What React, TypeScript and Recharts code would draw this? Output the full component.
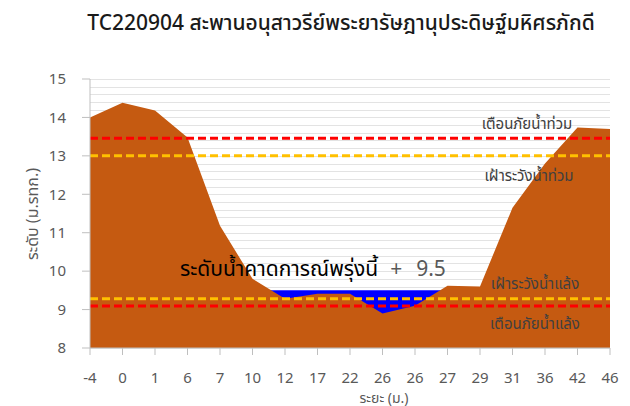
import { AreaChart, Area, XAxis, YAxis, CartesianGrid, ReferenceLine, Label } from 'recharts';

// distance along the cross section (m) and bed level (m MSL)
const distances = ['-4', '0', '1', '6', '7', '10', '12', '17', '22', '26', '26', '27', '29', '31', '36', '42', '46'];
const groundLevel = [14.0, 14.38, 14.18, 13.48, 11.18, 9.8, 9.28, 9.41, 9.41, 8.9, 9.1, 9.62, 9.6, 11.65, 12.8, 13.74, 13.7];
const forecastLevel = 9.5;

const floodWarning = 13.46;
const floodWatch = 13.0;
const droughtWatch = 9.28;
const droughtWarning = 9.09;

const yDomain = [8, 15];
const yTicks = [8, 9, 10, 11, 12, 13, 14, 15];
const gridTicks = Array.from({ length: 36 }, (_, i) => Math.round((8 + i * 0.2) * 10) / 10);

const data = distances.map((d, i) => ({ distance: d, ground: groundLevel[i], water: forecastLevel }));

const textColor = '#595959';
const thaiFont = "'Noto Sans Thai', 'Leelawadee UI', Tahoma, Loma, 'Noto Sans', sans-serif";

const W = 630;
const H = 406;
const margin = { top: 79, right: 20, left: 0, bottom: 8 };
const xAxisHeight = 50;
const plotHeight = H - margin.top - margin.bottom - xAxisHeight;

// minor grid every 0.2 m, snapped to whole pixels so the lines stay crisp
const gridPoints = gridTicks.map(
  (t) => Math.round(margin.top + ((yDomain[1] - t) / (yDomain[1] - yDomain[0])) * plotHeight) + 0.5
);

const sideLabel = (text: string, cx: number, dy: number) => (props: any) => {
  const vb = props.viewBox;
  return (
    <text x={vb.x + vb.width - cx} y={vb.y + dy} textAnchor="middle" fontSize={15} fill="#404040">
      {text}
    </text>
  );
};

const forecastLabel = (props: any) => {
  const vb = props.viewBox;
  return (
    <text x={vb.x + 90} y={vb.y - 14} fontSize={21} fill="#000">
      ระดับน้ำคาดการณ์พรุ่งนี้
      <tspan fill={textColor} dx={12}>+</tspan>
      <tspan fill={textColor} dx={14}>{forecastLevel}</tspan>
    </text>
  );
};

export default function App() {
  return (
    <div style={{ position: 'absolute', left: 0, top: 0, width: W, height: H, background: '#fff', fontFamily: thaiFont }}>
      <div style={{ position: 'absolute', left: 0, top: 13, width: 682, textAlign: 'center', fontSize: 21, lineHeight: '21px', fontWeight: 500, color: '#1a1a1a' }}>
        TC220904 สะพานอนุสาวรีย์พระยารัษฎานุประดิษฐ์มหิศรภักดี
      </div>
      <AreaChart width={W} height={H} data={data} margin={margin}>
        <CartesianGrid vertical={false} stroke="#e3e3e3" strokeWidth={1} shapeRendering="crispEdges" horizontalPoints={gridPoints} />
        <XAxis
          dataKey="distance"
          height={xAxisHeight}
          stroke="#bfbfbf"
          tickSize={7}
          tickMargin={17}
          tick={{ fill: textColor, fontSize: 15 }}
        >
          <Label
            content={() => (
              <text x={384} y={403} textAnchor="middle" fontSize={14} fill={textColor}>
                ระยะ (ม.)
              </text>
            )}
          />
        </XAxis>
        <YAxis
          width={90}
          type="number"
          domain={yDomain}
          ticks={yTicks}
          allowDataOverflow
          stroke="#bfbfbf"
          tickSize={8}
          tickMargin={16}
          tick={{ fill: textColor, fontSize: 15 }}
        >
          <Label
            content={() => (
              <text transform="translate(33,214) rotate(-90)" textAnchor="middle" dominantBaseline="central" fontSize={16} fill={textColor}>
                ระดับ (ม.รทก.)
              </text>
            )}
          />
        </YAxis>
        <Area type="linear" dataKey="water" fill="#0000ff" fillOpacity={1} stroke="none" isAnimationActive={false} />
        <Area type="linear" dataKey="ground" fill="#c55a11" fillOpacity={1} stroke="none" isAnimationActive={false} />
        <ReferenceLine y={forecastLevel} stroke="none" label={forecastLabel} />
        <ReferenceLine y={floodWarning} stroke="#ff0000" strokeWidth={3} strokeDasharray="8 4" label={sideLabel('เตือนภัยน้ำท่วม', 83, -9)} />
        <ReferenceLine y={floodWatch} stroke="#ffc000" strokeWidth={3} strokeDasharray="8 4" label={sideLabel('เฝ้าระวังน้ำท่วม', 81, 25)} />
        <ReferenceLine y={droughtWatch} stroke="#ffc000" strokeWidth={3} strokeDasharray="8 4" label={sideLabel('เฝ้าระวังน้ำแล้ง', 75, -10)} />
        <ReferenceLine y={droughtWarning} stroke="#ff0000" strokeWidth={3} strokeDasharray="8 4" label={sideLabel('เตือนภัยน้ำแล้ง', 75, 23)} />
      </AreaChart>
    </div>
  );
}
